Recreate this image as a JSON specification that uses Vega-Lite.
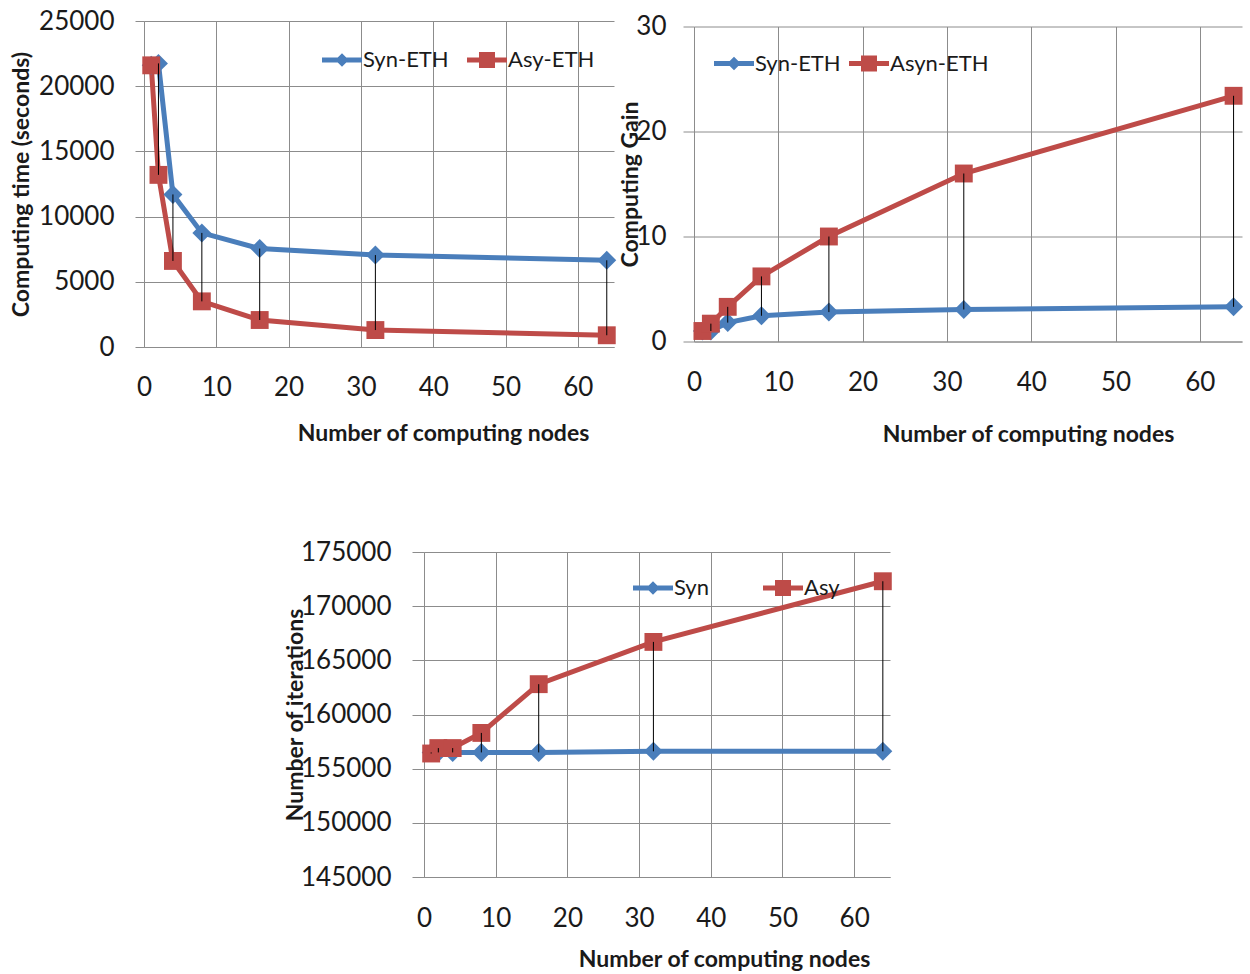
{
  "$schema": "https://vega.github.io/schema/vega-lite/v6.json",
  "padding": {"left": 10, "top": 8, "right": 5, "bottom": 5},
  "background": "white",
  "config": {
    "font": "Lato",
    "view": {"stroke": null},
    "axis": {
      "gridColor": "#8c8c8c", "gridOpacity": 1, "gridWidth": 1,
      "domainColor": "#8c8c8c", "domainWidth": 1,
      "tickColor": "#8c8c8c", "tickWidth": 1,
      "labelFont": "Lato", "labelFontSize": 26, "labelColor": "#1a1a1a",
      "titleFont": "Lato", "titleFontSize": 23, "titleFontWeight": "bold", "titleColor": "#1a1a1a"
    },
    "axisX": {"ticks": false, "labelBaseline": "middle", "labelPadding": 40, "titleBaseline": "middle", "titleAnchor": "middle", "labelFlush": false},
    "axisY": {"tickSize": 9, "labelPadding": 21, "titleBaseline": "middle", "titleAngle": 270, "labelFlush": false},
    "legend": {
      "orient": "none", "direction": "horizontal", "title": null,
      "labelFont": "Lato", "labelFontSize": 22, "labelColor": "#1a1a1a",
      "symbolSize": 1600, "labelOffset": 1, "padding": 0,
      "symbolOpacity": 1, "symbolStrokeWidth": 0
    }
  },
  "datasets": {
    "time": [
      {"nodes": 1, "series": "Syn-ETH", "value": 21600},
      {"nodes": 2, "series": "Syn-ETH", "value": 21750},
      {"nodes": 4, "series": "Syn-ETH", "value": 11700},
      {"nodes": 8, "series": "Syn-ETH", "value": 8750},
      {"nodes": 16, "series": "Syn-ETH", "value": 7550},
      {"nodes": 32, "series": "Syn-ETH", "value": 7050},
      {"nodes": 64, "series": "Syn-ETH", "value": 6650},
      {"nodes": 1, "series": "Asy-ETH", "value": 21600},
      {"nodes": 2, "series": "Asy-ETH", "value": 13200},
      {"nodes": 4, "series": "Asy-ETH", "value": 6600},
      {"nodes": 8, "series": "Asy-ETH", "value": 3500},
      {"nodes": 16, "series": "Asy-ETH", "value": 2070},
      {"nodes": 32, "series": "Asy-ETH", "value": 1300},
      {"nodes": 64, "series": "Asy-ETH", "value": 900}
    ],
    "gain": [
      {"nodes": 1, "series": "Syn-ETH", "value": 1.0},
      {"nodes": 2, "series": "Syn-ETH", "value": 1.0},
      {"nodes": 4, "series": "Syn-ETH", "value": 1.8},
      {"nodes": 8, "series": "Syn-ETH", "value": 2.45},
      {"nodes": 16, "series": "Syn-ETH", "value": 2.8},
      {"nodes": 32, "series": "Syn-ETH", "value": 3.05},
      {"nodes": 64, "series": "Syn-ETH", "value": 3.3},
      {"nodes": 1, "series": "Asyn-ETH", "value": 1.0},
      {"nodes": 2, "series": "Asyn-ETH", "value": 1.7},
      {"nodes": 4, "series": "Asyn-ETH", "value": 3.3},
      {"nodes": 8, "series": "Asyn-ETH", "value": 6.2},
      {"nodes": 16, "series": "Asyn-ETH", "value": 10.0},
      {"nodes": 32, "series": "Asyn-ETH", "value": 16.0},
      {"nodes": 64, "series": "Asyn-ETH", "value": 23.4}
    ],
    "iter": [
      {"nodes": 1, "series": "Syn", "value": 156500},
      {"nodes": 2, "series": "Syn", "value": 156500},
      {"nodes": 4, "series": "Syn", "value": 156500},
      {"nodes": 8, "series": "Syn", "value": 156500},
      {"nodes": 16, "series": "Syn", "value": 156500},
      {"nodes": 32, "series": "Syn", "value": 156600},
      {"nodes": 64, "series": "Syn", "value": 156600},
      {"nodes": 1, "series": "Asy", "value": 156400},
      {"nodes": 2, "series": "Asy", "value": 156900},
      {"nodes": 4, "series": "Asy", "value": 156900},
      {"nodes": 8, "series": "Asy", "value": 158300},
      {"nodes": 16, "series": "Asy", "value": 162800},
      {"nodes": 32, "series": "Asy", "value": 166700},
      {"nodes": 64, "series": "Asy", "value": 172300}
    ]
  },
  "spacing": 531,
  "bounds": "flush",
  "resolve": {"scale": {"color": "independent"}, "legend": {"color": "independent"}},
  "vconcat": [
    {
      "resolve": {"scale": {"color": "independent"}, "legend": {"color": "independent"}},
      "hconcat": [
        {
          "width": 470, "height": 326,
          "data": {"name": "time"},
          "layer": [
            {
              "mark": {"type": "line", "strokeWidth": 5},
              "encoding": {
                "x": {"field": "nodes", "type": "quantitative", "scale": {"domain": [0, 65], "nice": false}, "axis": {"values": [0, 10, 20, 30, 40, 50, 60], "title": "Number of computing nodes", "titleX": 299, "titleY": 86}},
                "y": {"field": "value", "type": "quantitative", "scale": {"domain": [0, 25000], "nice": false}, "axis": {"values": [0, 5000, 10000, 15000, 20000, 25000], "format": "d", "title": "Computing time (seconds)", "titleX": -123}},
                "color": {"field": "series", "type": "nominal", "scale": {"domain": ["Syn-ETH", "Asy-ETH"], "range": ["#4A7EBB", "#BE4B48"]},
                  "legend": {"legendX": 178, "legendY": 19, "columnPadding": 18,
                    "encode": {"symbols": {"update": {"fill": {"signal": "substring(datum.value,0,3) === 'Syn' ? '#4A7EBB' : '#BE4B48'"}, "strokeWidth": {"value": 0}, "shape": {"signal": "substring(datum.value,0,3) === 'Syn' ? 'M-1,-0.12L1,-0.12L1,0.12L-1,0.12Z M0,-0.34L0.34,0L0,0.34L-0.34,0Z' : 'M-1,-0.12L1,-0.12L1,0.12L-1,0.12Z M-0.4,-0.4L0.4,-0.4L0.4,0.4L-0.4,0.4Z'"}}}}}}
              }
            },
            {
              "transform": [{"filter": "datum.series === 'Syn-ETH'"}],
              "mark": {"type": "point", "filled": true, "opacity": 1, "strokeWidth": 0, "size": 360, "shape": "diamond"},
              "encoding": {
                "x": {"field": "nodes", "type": "quantitative"},
                "y": {"field": "value", "type": "quantitative"},
                "color": {"field": "series", "type": "nominal", "scale": {"domain": ["Syn-ETH", "Asy-ETH"], "range": ["#4A7EBB", "#BE4B48"]}}
              }
            },
            {
              "transform": [{"filter": "datum.series === 'Asy-ETH'"}],
              "mark": {"type": "point", "filled": true, "opacity": 1, "strokeWidth": 0, "size": 320, "shape": "square"},
              "encoding": {
                "x": {"field": "nodes", "type": "quantitative"},
                "y": {"field": "value", "type": "quantitative"},
                "color": {"field": "series", "type": "nominal", "scale": {"domain": ["Syn-ETH", "Asy-ETH"], "range": ["#4A7EBB", "#BE4B48"]}}
              }
            },
            {
              "transform": [{"pivot": "series", "value": "value", "groupby": ["nodes"]}],
              "mark": {"type": "rule", "color": "black", "strokeWidth": 1},
              "encoding": {
                "x": {"field": "nodes", "type": "quantitative"},
                "y": {"field": "Syn-ETH", "type": "quantitative", "title": "Computing time (seconds)"},
                "y2": {"field": "Asy-ETH"}
              }
            }
          ]
        },
        {
          "width": 548, "height": 315,
          "data": {"name": "gain"},
          "layer": [
            {
              "mark": {"type": "line", "strokeWidth": 5},
              "encoding": {
                "x": {"field": "nodes", "type": "quantitative", "scale": {"domain": [0, 65], "nice": false}, "axis": {"values": [0, 10, 20, 30, 40, 50, 60], "title": "Number of computing nodes", "titleX": 334, "titleY": 93, "labelPadding": 41}},
                "y": {"field": "value", "type": "quantitative", "scale": {"domain": [0, 30], "nice": false}, "axis": {"values": [0, 10, 20, 30], "format": "d", "title": "Computing Gain", "titleX": -64, "tickSize": 11, "labelPadding": 17}},
                "color": {"field": "series", "type": "nominal", "scale": {"domain": ["Syn-ETH", "Asyn-ETH"], "range": ["#4A7EBB", "#BE4B48"]},
                  "legend": {"legendX": 20, "legendY": 17, "columnPadding": 8,
                    "encode": {"symbols": {"update": {"fill": {"signal": "substring(datum.value,0,3) === 'Syn' ? '#4A7EBB' : '#BE4B48'"}, "strokeWidth": {"value": 0}, "shape": {"signal": "substring(datum.value,0,3) === 'Syn' ? 'M-1,-0.12L1,-0.12L1,0.12L-1,0.12Z M0,-0.34L0.34,0L0,0.34L-0.34,0Z' : 'M-1,-0.12L1,-0.12L1,0.12L-1,0.12Z M-0.4,-0.4L0.4,-0.4L0.4,0.4L-0.4,0.4Z'"}}}}}}
              }
            },
            {
              "transform": [{"filter": "datum.series === 'Syn-ETH'"}],
              "mark": {"type": "point", "filled": true, "opacity": 1, "strokeWidth": 0, "size": 360, "shape": "diamond"},
              "encoding": {
                "x": {"field": "nodes", "type": "quantitative"},
                "y": {"field": "value", "type": "quantitative"},
                "color": {"field": "series", "type": "nominal", "scale": {"domain": ["Syn-ETH", "Asyn-ETH"], "range": ["#4A7EBB", "#BE4B48"]}}
              }
            },
            {
              "transform": [{"filter": "datum.series === 'Asyn-ETH'"}],
              "mark": {"type": "point", "filled": true, "opacity": 1, "strokeWidth": 0, "size": 320, "shape": "square"},
              "encoding": {
                "x": {"field": "nodes", "type": "quantitative"},
                "y": {"field": "value", "type": "quantitative"},
                "color": {"field": "series", "type": "nominal", "scale": {"domain": ["Syn-ETH", "Asyn-ETH"], "range": ["#4A7EBB", "#BE4B48"]}}
              }
            },
            {
              "transform": [{"pivot": "series", "value": "value", "groupby": ["nodes"]}],
              "mark": {"type": "rule", "color": "black", "strokeWidth": 1},
              "encoding": {
                "x": {"field": "nodes", "type": "quantitative"},
                "y": {"field": "Syn-ETH", "type": "quantitative", "title": "Computing Gain"},
                "y2": {"field": "Asyn-ETH"}
              }
            }
          ]
        }
      ],
      "spacing": 80,
      "bounds": "flush",
      "center": true
    },
    {
      "resolve": {"scale": {"color": "independent"}, "legend": {"color": "independent"}},
      "hconcat": [
        {
          "width": 260, "height": 325,
          "data": {"values": [{}]},
          "mark": {"type": "point", "opacity": 0},
          "encoding": {}
        },
        {
          "width": 466, "height": 325,
          "data": {"name": "iter"},
          "layer": [
            {
              "mark": {"type": "line", "strokeWidth": 5},
              "encoding": {
                "x": {"field": "nodes", "type": "quantitative", "scale": {"domain": [0, 65], "nice": false}, "axis": {"values": [0, 10, 20, 30, 40, 50, 60], "title": "Number of computing nodes", "titleX": 300, "titleY": 82, "labelPadding": 41}},
                "y": {"field": "value", "type": "quantitative", "scale": {"domain": [145000, 175000], "nice": false, "zero": false}, "axis": {"values": [145000, 150000, 155000, 160000, 165000, 170000, 175000], "format": "d", "title": "Number of iterations", "titleX": -129, "tickSize": 12, "labelPadding": 21}},
                "color": {"field": "series", "type": "nominal", "scale": {"domain": ["Syn", "Asy"], "range": ["#4A7EBB", "#BE4B48"]},
                  "legend": {"legendX": 209, "legendY": 16, "columnPadding": 54,
                    "encode": {"symbols": {"update": {"fill": {"signal": "substring(datum.value,0,3) === 'Syn' ? '#4A7EBB' : '#BE4B48'"}, "strokeWidth": {"value": 0}, "shape": {"signal": "substring(datum.value,0,3) === 'Syn' ? 'M-1,-0.12L1,-0.12L1,0.12L-1,0.12Z M0,-0.34L0.34,0L0,0.34L-0.34,0Z' : 'M-1,-0.12L1,-0.12L1,0.12L-1,0.12Z M-0.4,-0.4L0.4,-0.4L0.4,0.4L-0.4,0.4Z'"}}}}}}
              }
            },
            {
              "transform": [{"filter": "datum.series === 'Syn'"}],
              "mark": {"type": "point", "filled": true, "opacity": 1, "strokeWidth": 0, "size": 360, "shape": "diamond"},
              "encoding": {
                "x": {"field": "nodes", "type": "quantitative"},
                "y": {"field": "value", "type": "quantitative"},
                "color": {"field": "series", "type": "nominal", "scale": {"domain": ["Syn", "Asy"], "range": ["#4A7EBB", "#BE4B48"]}}
              }
            },
            {
              "transform": [{"filter": "datum.series === 'Asy'"}],
              "mark": {"type": "point", "filled": true, "opacity": 1, "strokeWidth": 0, "size": 320, "shape": "square"},
              "encoding": {
                "x": {"field": "nodes", "type": "quantitative"},
                "y": {"field": "value", "type": "quantitative"},
                "color": {"field": "series", "type": "nominal", "scale": {"domain": ["Syn", "Asy"], "range": ["#4A7EBB", "#BE4B48"]}}
              }
            },
            {
              "transform": [{"pivot": "series", "value": "value", "groupby": ["nodes"]}],
              "mark": {"type": "rule", "color": "black", "strokeWidth": 1},
              "encoding": {
                "x": {"field": "nodes", "type": "quantitative"},
                "y": {"field": "Syn", "type": "quantitative", "title": "Number of iterations"},
                "y2": {"field": "Asy"}
              }
            }
          ]
        }
      ],
      "spacing": 20,
      "bounds": "flush"
    }
  ]
}
